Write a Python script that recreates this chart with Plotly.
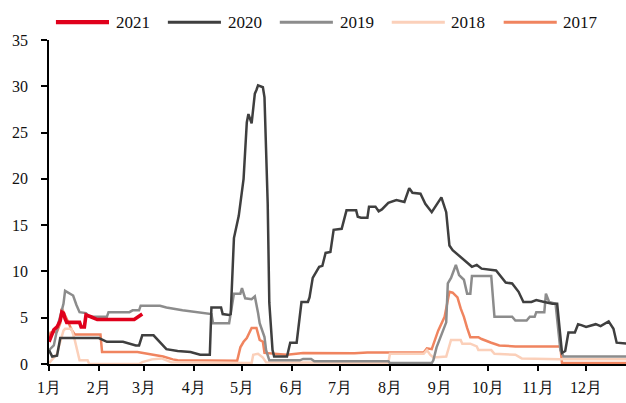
import pandas as pd
import plotly.graph_objects as go

# Day offsets from 1 January and the matching values for each year
days_2021 = [0, 1, 3, 5, 7, 8, 9, 10, 11, 19, 20, 22, 23, 26, 30, 53, 56, 58]
vals_2021 = [2.4, 2.9, 3.7, 4.0, 4.7, 5.6, 5.5, 4.9, 4.5, 4.5, 4.0, 4.0, 5.3, 5.1, 4.8, 4.8, 5.1, 5.4]

days_2020 = [0, 2, 5, 7, 31, 36, 46, 54, 56, 58, 65, 69, 73, 80, 88, 94, 100, 101, 107, 108,
             112, 113, 115, 118, 120, 121, 123, 124, 126, 128, 129, 130, 133, 134, 136, 137,
             139, 140, 148, 150, 154, 157, 161, 162, 164, 168, 170, 172, 175, 177, 182, 185,
             191, 192, 194, 198, 199, 203, 205, 207, 211, 216, 221, 224, 226, 231, 234, 238,
             244, 247, 249, 251, 263, 266, 269, 278, 284, 288, 292, 295, 300, 303, 308, 313,
             316, 318, 319, 321, 323, 327, 329, 331, 334, 340, 343, 348, 351, 353, 359]
vals_2020 = [1.5, 0.8, 0.9, 2.8, 2.8, 2.4, 2.4, 2.0, 2.0, 3.1, 3.1, 2.4, 1.6, 1.4, 1.3, 1.0, 1.0, 6.1, 6.1, 5.4,
             5.3, 5.4, 13.6, 16.0, 18.4, 20.0, 26.1, 27.0, 26.0, 29.2, 29.6, 30.1, 29.9, 28.8, 17.3, 6.6,
             1.5, 0.8, 0.8, 2.3, 2.3, 6.7, 6.7, 7.2, 9.3, 10.5, 10.6, 12.0, 12.1, 14.5, 14.6, 16.6,
             16.6, 15.9, 15.8, 15.8, 17.0, 17.0, 16.5, 16.7, 17.4, 17.7, 17.5, 19.0, 18.5, 18.4, 17.3, 16.4,
             18.0, 16.4, 12.8, 12.3, 10.5, 10.7, 10.3, 10.1, 8.8, 8.7, 7.8, 6.7, 6.7, 6.9, 6.7, 6.5,
             6.5, 3.0, 1.2, 1.4, 3.4, 3.4, 4.3, 4.2, 4.0, 4.3, 4.1, 4.6, 3.8, 2.3, 2.2]

days_2019 = [0, 3, 6, 9, 10, 13, 15, 17, 19, 23, 25, 36, 37, 50, 52, 56, 57, 69, 73, 83, 92, 98,
             101, 102, 112, 115, 119, 120, 122, 126, 128, 130, 131, 134, 135, 137, 156, 158, 163,
             165, 211, 212, 238, 239, 241, 247, 248, 250, 253, 255, 258, 260, 262, 263, 275, 277,
             288, 290, 297, 299, 302, 303, 308, 309, 311, 315, 316, 318, 320, 359]
vals_2019 = [1.5, 2.0, 4.5, 6.5, 7.9, 7.6, 7.4, 6.4, 5.6, 5.5, 5.1, 5.1, 5.6, 5.6, 5.8, 5.8, 6.3, 6.3, 6.1, 5.8, 5.6, 5.5,
             5.4, 4.4, 4.4, 7.6, 7.6, 8.2, 7.1, 7.0, 7.3, 5.5, 4.4, 2.9, 1.5, 0.4, 0.4, 0.55, 0.55,
             0.3, 0.3, 0.1, 0.1, 0.4, 1.8, 4.5, 8.7, 9.3, 10.7, 9.6, 9.1, 7.6, 7.6, 9.5, 9.5, 5.1,
             5.1, 4.7, 4.7, 5.1, 5.1, 5.6, 5.6, 7.6, 6.7, 6.5, 5.0, 1.5, 0.8, 0.8]

days_2018 = [0, 5, 6, 9, 10, 14, 16, 18, 19, 24, 25, 56, 58, 64, 70, 76, 126, 127, 130, 133, 135,
             211, 212, 233, 235, 237, 239, 247, 250, 256, 257, 262, 266, 267, 275, 277, 290, 294, 318, 359]
vals_2018 = [0.1, 1.1, 1.8, 3.6, 3.8, 3.8, 2.6, 1.0, 0.4, 0.4, 0.0, 0.0, 0.2, 0.5, 0.6, 0.2, 0.1, 1.0, 1.1, 0.7, 0.2,
             0.1, 1.1, 1.1, 1.5, 1.0, 0.7, 0.8, 2.6, 2.6, 2.2, 2.2, 1.9, 1.5, 1.5, 1.1, 1.0, 0.6, 0.5, 0.5]

days_2017 = [0, 1, 5, 7, 8, 10, 12, 14, 16, 32, 33, 55, 58, 65, 71, 77, 80, 117, 119, 121, 123, 126,
             129, 131, 133, 134, 140, 148, 158, 190, 198, 233, 235, 238, 242, 246, 248, 249, 251,
             254, 256, 258, 260, 262, 267, 269, 275, 280, 290, 318, 319, 359]
vals_2017 = [2.7, 3.4, 3.5, 4.4, 6.0, 5.3, 4.5, 3.7, 3.2, 3.2, 1.3, 1.3, 1.2, 1.0, 0.8, 0.5, 0.4, 0.35, 1.8, 2.4, 2.8, 3.9,
             3.9, 2.6, 2.4, 1.2, 1.1, 1.0, 1.2, 1.15, 1.25, 1.25, 1.7, 1.6, 3.6, 5.1, 6.9, 7.8, 7.7,
             7.2, 6.0, 5.1, 3.9, 2.9, 2.9, 2.7, 2.3, 2.0, 1.9, 1.9, 0.1, 0.1]

month_labels = [f"{m}月" for m in range(1, 13)]

YEAR0 = pd.Timestamp("2021-01-01")


def to_dates(days):
    return YEAR0 + pd.to_timedelta(days, unit="D")


# name, days, values, colour, width  (drawn bottom to top)
series = [
    ("2017", days_2017, vals_2017, "#F0845F", 2.5),
    ("2018", days_2018, vals_2018, "#FBD0BA", 2.5),
    ("2019", days_2019, vals_2019, "#8C8C8C", 2.5),
    ("2020", days_2020, vals_2020, "#3F3F3F", 2.5),
    ("2021", days_2021, vals_2021, "#E0001B", 3.6),
]

fig = go.Figure()
for name, d, v, color, w in series:
    fig.add_trace(go.Scatter(
        x=to_dates(d), y=v, mode="lines", name=name,
        line=dict(color=color, width=w), showlegend=False,
    ))

FONT = "Liberation Serif"
TICK_FONT = dict(family="Liberation Serif", size=16, color="#111111")

# Legend row above the plot: short line sample followed by the year
legend_order = ["2021", "2020", "2019", "2018", "2017"]
styles = {s[0]: (s[3], s[4]) for s in series}
x0 = 0.012
step = 0.194
seg = 0.092
ly = 1.055
for i, name in enumerate(legend_order):
    color, w = styles[name]
    xs = x0 + i * step
    fig.add_shape(type="line", xref="paper", yref="paper",
                  x0=xs, x1=xs + seg, y0=ly, y1=ly,
                  line=dict(color=color, width=w + 0.6))
    fig.add_annotation(xref="paper", yref="paper", x=xs + seg + 0.008, y=ly,
                       text=name, showarrow=False, xanchor="left", yanchor="middle",
                       font=dict(family=FONT, size=17, color="#111111"))

month_starts = [pd.Timestamp(2021, m, 1) for m in range(1, 13)]

fig.update_layout(
    width=626, height=403,
    margin=dict(l=49, r=0, t=40, b=39),
    paper_bgcolor="white", plot_bgcolor="white",
    font=dict(family=FONT, size=16, color="#111111"),
    showlegend=False,
)
fig.update_xaxes(
    range=[YEAR0, YEAR0 + pd.Timedelta(days=358.8)],
    tickvals=month_starts, ticktext=month_labels, tickfont=TICK_FONT,
    showgrid=False, zeroline=False,
    showline=True, linecolor="black", linewidth=1.5,
    ticks="outside", ticklen=5, tickcolor="black", tickwidth=1.5,
    ticklabelstandoff=3, layer="below traces",
)
fig.update_yaxes(
    range=[0, 35], dtick=5, tick0=0, tickfont=TICK_FONT,
    showgrid=False, zeroline=False,
    showline=True, linecolor="black", linewidth=1.5,
    ticks="outside", ticklen=6, tickcolor="black", tickwidth=1.5,
    ticklabelstandoff=10,
)

fig.write_html("out.html")
